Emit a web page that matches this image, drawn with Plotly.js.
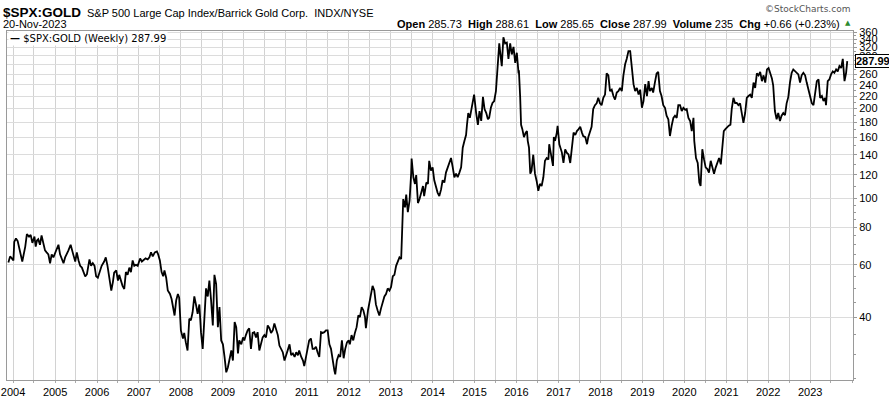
<!DOCTYPE html>
<html>
<head>
<meta charset="utf-8">
<script src="https://cdn.plot.ly/plotly-3.0.1.min.js"></script>
<style>
  html, body { margin: 0; padding: 0; background: #fff; }
  #chart { width: 889px; height: 398px; }
</style>
</head>
<body>
<div id="chart"></div>
<script>
// ---- Data (weekly-ish samples), dates as decimal years ----
const weekYears = [
  2003.89,2003.93,2003.97,2004.01,2004.03,2004.07,2004.11,2004.15,2004.22,2004.29,
  2004.33,2004.38,2004.42,2004.46,2004.51,2004.54,2004.57,2004.60,2004.64,2004.68,
  2004.72,2004.76,2004.80,2004.84,2004.88,2004.92,2004.96,2005.00,2005.04,2005.08,
  2005.12,2005.16,2005.20,2005.24,2005.28,2005.32,2005.37,2005.40,2005.44,2005.48,
  2005.52,2005.56,2005.60,2005.64,2005.68,2005.72,2005.76,2005.80,2005.82,2005.86,
  2005.90,2005.94,2005.98,2006.02,2006.06,2006.11,2006.17,2006.21,2006.25,2006.29,
  2006.34,2006.38,2006.41,2006.46,2006.50,2006.53,2006.57,2006.61,2006.65,2006.69,
  2006.73,2006.77,2006.81,2006.85,2006.89,2006.93,2006.97,2007.03,2007.07,2007.11,
  2007.16,2007.21,2007.25,2007.29,2007.33,2007.38,2007.43,2007.46,2007.50,2007.54,
  2007.58,2007.61,2007.65,2007.69,2007.74,2007.78,2007.82,2007.85,2007.89,2007.93,
  2007.96,2008.00,2008.05,2008.08,2008.12,2008.16,2008.20,2008.24,2008.28,2008.32,
  2008.36,2008.40,2008.44,2008.48,2008.52,2008.56,2008.60,2008.64,2008.68,2008.72,
  2008.76,2008.80,2008.84,2008.88,2008.92,2008.96,2009.00,2009.04,2009.08,2009.12,
  2009.16,2009.20,2009.24,2009.28,2009.32,2009.36,2009.39,2009.44,2009.48,2009.51,
  2009.55,2009.59,2009.63,2009.67,2009.71,2009.75,2009.79,2009.83,2009.87,2009.91,
  2009.95,2009.99,2010.03,2010.07,2010.11,2010.15,2010.19,2010.23,2010.27,2010.31,
  2010.35,2010.39,2010.43,2010.47,2010.51,2010.55,2010.59,2010.63,2010.67,2010.71,
  2010.75,2010.79,2010.82,2010.87,2010.91,2010.94,2010.98,2011.02,2011.06,2011.10,
  2011.14,2011.18,2011.22,2011.26,2011.30,2011.34,2011.38,2011.42,2011.46,2011.50,
  2011.54,2011.58,2011.62,2011.66,2011.68,2011.72,2011.76,2011.80,2011.84,2011.88,
  2011.92,2011.96,2012.00,2012.03,2012.07,2012.11,2012.15,2012.19,2012.23,2012.27,
  2012.31,2012.35,2012.39,2012.41,2012.46,2012.49,2012.53,2012.57,2012.61,2012.65,
  2012.69,2012.73,2012.77,2012.81,2012.85,2012.89,2012.93,2012.97,2013.01,2013.05,
  2013.09,2013.13,2013.17,2013.21,2013.25,2013.28,2013.30,2013.34,2013.37,2013.41,
  2013.45,2013.49,2013.50,2013.54,2013.58,2013.61,2013.65,2013.69,2013.73,2013.77,
  2013.80,2013.85,2013.89,2013.92,2013.96,2014.00,2014.04,2014.08,2014.12,2014.16,
  2014.20,2014.24,2014.28,2014.32,2014.36,2014.40,2014.44,2014.48,2014.52,2014.56,
  2014.60,2014.64,2014.68,2014.70,2014.72,2014.76,2014.80,2014.82,2014.85,2014.89,
  2014.93,2014.96,2014.99,2015.04,2015.08,2015.12,2015.16,2015.20,2015.24,2015.28,
  2015.32,2015.35,2015.39,2015.43,2015.47,2015.51,2015.55,2015.59,2015.61,2015.65,
  2015.69,2015.73,2015.77,2015.81,2015.85,2015.89,2015.93,2015.97,2016.01,2016.05,
  2016.06,2016.09,2016.11,2016.14,2016.18,2016.22,2016.25,2016.27,2016.30,2016.33,
  2016.36,2016.40,2016.44,2016.48,2016.52,2016.56,2016.60,2016.64,2016.68,2016.72,
  2016.76,2016.78,2016.82,2016.87,2016.89,2016.92,2016.96,2016.98,2017.02,2017.05,
  2017.08,2017.12,2017.16,2017.20,2017.24,2017.28,2017.32,2017.36,2017.40,2017.44,
  2017.48,2017.52,2017.56,2017.59,2017.64,2017.68,2017.71,2017.75,2017.79,2017.83,
  2017.87,2017.91,2017.95,2017.99,2018.03,2018.07,2018.11,2018.15,2018.19,2018.23,
  2018.27,2018.31,2018.35,2018.39,2018.43,2018.47,2018.51,2018.55,2018.59,2018.63,
  2018.67,2018.71,2018.75,2018.79,2018.83,2018.87,2018.91,2018.95,2018.99,2019.03,
  2019.07,2019.11,2019.15,2019.18,2019.23,2019.26,2019.30,2019.34,2019.38,2019.42,
  2019.46,2019.50,2019.54,2019.58,2019.62,2019.66,2019.70,2019.74,2019.78,2019.82,
  2019.86,2019.90,2019.94,2019.98,2020.02,2020.06,2020.10,2020.14,2020.18,2020.22,
  2020.24,2020.28,2020.32,2020.36,2020.39,2020.43,2020.47,2020.51,2020.55,2020.59,
  2020.63,2020.67,2020.71,2020.75,2020.79,2020.83,2020.87,2020.91,2020.94,2020.98,
  2021.02,2021.06,2021.10,2021.13,2021.17,2021.21,2021.25,2021.29,2021.33,2021.37,
  2021.41,2021.45,2021.49,2021.53,2021.57,2021.61,2021.65,2021.69,2021.73,2021.77,
  2021.81,2021.85,2021.89,2021.93,2021.97,2022.01,2022.05,2022.09,2022.12,2022.16,
  2022.20,2022.24,2022.28,2022.32,2022.36,2022.40,2022.44,2022.48,2022.52,2022.56,
  2022.60,2022.64,2022.68,2022.72,2022.76,2022.80,2022.84,2022.88,2022.92,2022.96,
  2023.00,2023.04,2023.08,2023.12,2023.16,2023.20,2023.24,2023.28,2023.32,2023.36,
  2023.38,2023.42,2023.46,2023.50,2023.54,2023.58,2023.62,2023.66,2023.70,2023.74,
  2023.78,2023.82,2023.86,2023.885
];
const ratio = [
  61,64,63,62,71.5,73.5,72,68,61.5,69,
  76,74.5,75.5,71,74.5,69,72.3,73,70,75.2,
  70,67,66,65,60.7,65,63.5,66,68,70,
  65,63,60.7,63.5,65,67,70,67,64.5,61.5,
  66,62,59.5,58.7,57,54.8,55.8,61.5,62.5,59.5,
  60.7,59.5,54.9,54.3,56.5,59.5,61.5,63.5,59.5,54.3,
  49.2,52.5,56.5,57.4,53.1,55.5,52.5,51,49.8,56.7,
  55.5,58.7,56.7,62,59.5,60,59.5,63,61.5,62,
  63,62.5,63.5,66,64,66,66.5,65,62,56.7,
  54.9,57.4,54.3,49.2,47.9,46.1,43.3,40.6,45.6,47.9,
  46.6,36.2,34,35.5,33,31,39.6,39.1,41.6,47,
  44.2,41.1,44.2,35.7,31.4,39.1,50,47,53.1,45.6,
  37.6,55.5,51.7,37.1,43.3,33.5,32.5,29.5,26.2,27.2,
  29.5,31,28.7,38.6,37.1,30.3,33.5,32.5,34.3,33.5,
  34.9,36.2,36.8,31.4,35.5,35.7,34.3,35.7,31,32.5,
  34.3,34.9,34.3,37.6,36.8,35.5,36.2,38.2,36.2,34.9,
  32.2,31.4,30.6,28.7,29.9,31.4,32.5,29.9,30.3,29.5,
  30.6,29.9,31,29.5,28.7,27.5,29.5,31.4,33.5,34,
  31.4,31.4,31.9,30.6,29.5,35.7,35.5,35.7,36.2,36.2,
  32.5,31.4,28.4,26.6,25.8,28.7,29.9,29.5,33.5,29.2,
  31.4,33,33.5,32.5,34.9,33.5,35.5,37.1,40.6,40.1,
  43.3,42.2,40.1,36.8,42.2,44.2,47,51,49.2,44.2,
  42.2,40.6,42.8,44.8,47,47.9,50,49.2,50.6,54.9,
  55.5,59.5,61.5,63.5,62.7,78,99.5,93.3,103,90,
  98.2,121,136,117.7,111.8,119.6,96.5,99.5,106,110,
  101.8,113,111.8,133.6,123.8,127,115,108.6,104.6,101.8,
  107,115,113,122,127,131.4,136.5,127,117.7,121,
  117.7,122,127,136.5,147.8,155.8,163,176.3,193,186,
  201,208.5,222.5,193,176.3,196,181.6,218.6,199,193,
  184,186,201,208.5,211.7,228.5,281,330,311,277,
  346,330,332,293,330,303,321,284,307,262,
  268,218.6,176.3,170.5,160.3,166,168,155.8,147.8,121,
  123.8,140,121,114.6,106,111.8,110,117.7,133.6,136.5,
  135,151.8,140,128.5,160.3,155.8,166,175,151.8,147.8,
  142.6,131.4,146,142,140.3,131.4,151.8,166,163,168,
  170.5,173.5,166,161.7,160.3,151.8,160.3,168,173.5,199,
  205,208,217,208,205,217,222.5,262,258,228.5,
  231,220,214,226,228.5,234,228.5,258,281,293,
  311,311,273,241,228.5,234,222.5,231,201,211.7,
  241,220,246.7,228.5,234,226,244,262,265,228.5,
  220,205,201,189,184,161.7,175,186,189,186,
  205,205,196,201,198,199,186,181.6,168,186,
  155.8,136.5,131.4,113,110,146,135,127,125.4,122,
  133.6,127,121,127,131.4,136.5,130,151.8,168,170.5,
  173.5,175,176.3,199,217,208.5,208.5,205,208,189,
  179,193,217,220,222.5,217,244,234,262,258,
  265,246.7,258,244,270,273,263,252,239,196,
  184,193,181.6,189,193,190,208,218.6,244,263,
  270,266,263,260,244,258,263,258,244,231,
  220,208.5,205,228.5,246.7,250,217,220,211.7,217,
  205,246.7,250,260,266,263,270,266,277,273,
  293,246.7,263,287.99
];
const yearLabels = ['2004','2005','2006','2007','2008','2009','2010','2011','2012','2013',
                    '2014','2015','2016','2017','2018','2019','2020','2021','2022','2023'];
const priceTicks = [40,60,80,100,120,140,160,180,200,220,240,260,280,300,320,340,360];
const hiddenPriceLabels = [280]; // covered by the last-price box in the reference
const minorPriceTicks = [25,30,35,45,50,55,65,70,75,85,90,95,110,130,150,170,190,210,230,250,270,290,310,330,350];
const lastClose = 287.99;
const headerQuote = '<b>Open</b> 285.73  <b>High</b> 288.61  <b>Low</b> 285.65  <b>Close</b> 287.99  <b>Volume</b> 235  <b>Chg</b> +0.66 (+0.23%)';

// ---- helpers ----
function dy(d) {
  const y = Math.floor(d);
  const s = Date.UTC(y, 0, 1), e = Date.UTC(y + 1, 0, 1);
  return new Date(s + (d - y) * (e - s)).toISOString().slice(0, 10);
}
const xDates = weekYears.map(dy);

const F = 'Liberation Sans, Arial, sans-serif';
// plot box geometry in page pixels -> paper coords
const L = 7, R = 853, T = 31, B = 380;
const px = v => (v - L) / (R - L);
const py = v => (B - v) / (B - T);

const trace = {
  x: xDates, y: ratio, type: 'scatter', mode: 'lines',
  line: { color: '#000', width: 1.8 }, hoverinfo: 'skip', showlegend: false
};

const layout = {
  width: 889, height: 398,
  margin: { l: L, r: 889 - R, t: T, b: 398 - B, pad: 0 },
  paper_bgcolor: '#fff', plot_bgcolor: '#fff',
  font: { family: F, size: 11, color: '#000' },
  xaxis: {
    type: 'date', range: [dy(2003.857), dy(2024.024)],
    tickvals: yearLabels.map(y => y + '-01-01'), ticktext: yearLabels,
    ticks: 'outside', ticklen: 2, tickcolor: '#aaa',
    showgrid: true, gridcolor: '#d2d2d2', gridwidth: 1,
    minor: { dtick: 'M6', tick0: '2004-07-01', showgrid: true, gridcolor: '#d2d2d2', ticks: 'outside', ticklen: 2, tickcolor: '#aaa' },
    showline: true, linecolor: '#9a9a9a', mirror: true, zeroline: false,
    tickfont: { family: F, size: 11, color: '#000' }, fixedrange: true
  },
  yaxis: {
    type: 'log', side: 'right',
    range: [Math.log10(24.7), Math.log10(363)],
    tickvals: priceTicks, ticktext: priceTicks.map(v => hiddenPriceLabels.includes(v) ? '' : String(v)),
    ticks: 'outside', ticklen: 3, tickcolor: '#999',
    minor: { tickvals: minorPriceTicks, ticks: 'outside', ticklen: 2, tickcolor: '#999', showgrid: false },
    showgrid: true, gridcolor: '#dcdcdc', gridwidth: 1,
    showline: true, linecolor: '#9a9a9a', mirror: true, zeroline: false,
    tickfont: { family: F, size: 11, color: '#000' }, fixedrange: true
  },
  annotations: [
    { xref: 'paper', yref: 'paper', x: px(1), y: py(12), xanchor: 'left', yanchor: 'middle', showarrow: false,
      text: '<b>$SPX:GOLD</b>', font: { family: F, size: 13.5, color: '#000' } },
    { xref: 'paper', yref: 'paper', x: px(85), y: py(13), xanchor: 'left', yanchor: 'middle', showarrow: false,
      text: 'S&amp;P 500 Large Cap Index/Barrick Gold Corp.  INDX/NYSE', font: { family: F, size: 11, color: '#000' } },
    { xref: 'paper', yref: 'paper', x: px(1), y: py(24), xanchor: 'left', yanchor: 'middle', showarrow: false,
      text: '20-Nov-2023', font: { family: F, size: 11, color: '#000' } },
    { xref: 'paper', yref: 'paper', x: px(842), y: py(24), xanchor: 'right', yanchor: 'middle', showarrow: false,
      text: headerQuote, font: { family: F, size: 11, color: '#000' } },
    { xref: 'paper', yref: 'paper', x: px(843), y: py(23), xanchor: 'left', yanchor: 'middle', showarrow: false,
      text: '▲', font: { family: 'DejaVu Sans', size: 7, color: '#2e8b2e' } },
    { xref: 'paper', yref: 'paper', x: px(852), y: py(9), xanchor: 'right', yanchor: 'middle', showarrow: false,
      text: '©StockCharts.com', font: { family: 'DejaVu Sans, Verdana', size: 9, color: '#555' } },
    { xref: 'paper', yref: 'paper', x: px(8), y: py(39), xanchor: 'left', yanchor: 'middle', showarrow: false,
      bgcolor: '#fff', borderpad: 1,
      text: '<b>—</b> $SPX:GOLD (Weekly) 287.99', font: { family: 'DejaVu Sans, Verdana', size: 10, color: '#000' } },
    { xref: 'paper', yref: 'y', x: px(855), y: Math.log10(lastClose), xanchor: 'left', yanchor: 'middle', showarrow: false,
      bgcolor: '#fff', bordercolor: '#000', borderwidth: 1, borderpad: 0,
      text: '<b>' + lastClose.toFixed(2) + '</b>', font: { family: F, size: 11, color: '#000' } }
  ]
};

Plotly.newPlot('chart', [trace], layout, { displayModeBar: false, staticPlot: true });
</script>
</body>
</html>
